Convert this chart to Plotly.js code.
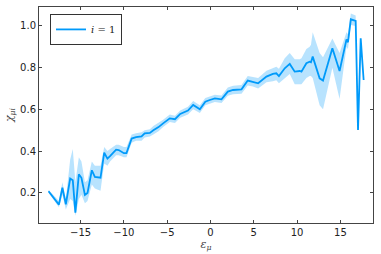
<!DOCTYPE html>
<html>
<head>
<meta charset="utf-8">
<script src="https://cdn.plot.ly/plotly-3.0.1.min.js"></script>
<style>html,body{margin:0;padding:0;background:#fff;}#chart{width:381px;height:254px;}</style>
</head>
<body>
<div id="chart"></div>
<script>
const epsMu = [-18.7,-17.5,-17.1,-16.7,-16.2,-15.9,-15.6,-15.2,-14.9,-14.5,-14.2,-13.7,-13.35,-12.7,-12.27,-11.9,-11.6,-10.9,-10.6,-10.0,-9.7,-9.1,-8.6,-7.96,-7.6,-7.0,-6.6,-6.0,-5.47,-4.7,-4.1,-3.5,-2.6,-2.0,-1.23,-0.6,-0.08,0.5,1.27,2.0,2.6,3.58,4.3,4.9,5.5,6.46,7.2,7.6,7.9,8.57,9.15,9.72,10.3,10.5,11.07,11.45,11.6,11.8,12.6,12.99,14.07,14.9,15.7,15.87,16.2,16.76,17.03,17.34,17.68];
const chiMean = [0.207,0.143,0.224,0.145,0.268,0.26,0.105,0.289,0.272,0.19,0.199,0.308,0.276,0.272,0.392,0.364,0.376,0.407,0.405,0.39,0.39,0.46,0.467,0.47,0.485,0.487,0.50,0.515,0.533,0.557,0.553,0.578,0.594,0.621,0.60,0.637,0.645,0.653,0.648,0.685,0.693,0.696,0.738,0.733,0.725,0.757,0.77,0.773,0.76,0.797,0.818,0.781,0.784,0.781,0.821,0.829,0.826,0.853,0.749,0.738,0.893,0.784,0.936,0.922,1.032,1.024,0.501,0.941,0.741];
const chiLower = [0.20,0.13,0.19,0.12,0.17,0.16,0.09,0.17,0.19,0.15,0.16,0.24,0.22,0.21,0.34,0.33,0.35,0.38,0.38,0.37,0.37,0.44,0.45,0.45,0.465,0.47,0.48,0.495,0.515,0.54,0.535,0.56,0.575,0.60,0.582,0.62,0.627,0.635,0.63,0.665,0.673,0.675,0.715,0.71,0.70,0.73,0.735,0.74,0.725,0.75,0.77,0.72,0.72,0.72,0.75,0.76,0.76,0.75,0.62,0.60,0.80,0.65,0.90,0.89,1.005,1.00,0.495,0.935,0.735];
const chiUpper = [0.215,0.16,0.25,0.17,0.36,0.41,0.25,0.37,0.35,0.25,0.26,0.35,0.33,0.33,0.42,0.40,0.41,0.43,0.43,0.42,0.42,0.48,0.485,0.49,0.50,0.505,0.52,0.535,0.55,0.575,0.57,0.595,0.612,0.64,0.62,0.655,0.663,0.67,0.667,0.705,0.713,0.717,0.76,0.756,0.75,0.785,0.80,0.805,0.795,0.845,0.87,0.84,0.84,0.845,0.89,0.90,0.91,0.97,0.87,0.85,0.94,0.87,0.97,0.96,1.06,1.05,0.505,0.945,0.745];
const seriesName = '<i>i</i> = 1';
const xTicks = [-15,-10,-5,0,5,10,15];
const yTicks = [0.2,0.4,0.6,0.8,1.0];

const bandX = epsMu.concat(epsMu.slice().reverse());
const bandY = chiUpper.concat(chiLower.slice().reverse());

const traces = [
  {x: bandX, y: bandY, type: 'scatter', mode: 'lines', fill: 'toself',
   fillcolor: 'rgba(0,154,250,0.28)', line: {width: 0}, hoverinfo: 'skip', showlegend: false},
  {x: epsMu, y: chiMean, type: 'scatter', mode: 'lines', name: seriesName,
   line: {color: '#009AFA', width: 1.8}}
];

const axisCommon = {
  showgrid: false, zeroline: false, showline: true, linecolor: '#444', linewidth: 1,
  mirror: 'allticks', ticks: 'inside', ticklen: 3, tickcolor: '#444',
  tickfont: {family: 'DejaVu Sans', size: 10, color: '#222'}
};

const layout = {
  width: 381, height: 254,
  margin: {l: 39, r: 8, t: 7, b: 31},
  paper_bgcolor: '#fff', plot_bgcolor: '#fff',
  xaxis: Object.assign({}, axisCommon, {
    range: [-19.8, 18.76], tickvals: xTicks, ticktext: xTicks.map(v => v < 0 ? '\u2212' + Math.abs(v) : String(v)),
    title: {text: '<i>ε</i><sub><i>μ</i></sub>', font: {family: 'DejaVu Serif', size: 11, color: '#444'}, standoff: 2}
  }),
  yaxis: Object.assign({}, axisCommon, {
    range: [0.055, 1.091], tickvals: yTicks, ticktext: yTicks.map(v => v.toFixed(1)),
    title: {text: '<i>χ</i><sub><i>μi</i></sub>', font: {family: 'DejaVu Serif', size: 11, color: '#444'}, standoff: 4}
  }),
  showlegend: true,
  legend: {x: 0.033, y: 0.968, xanchor: 'left', yanchor: 'top', bgcolor: '#fff',
    bordercolor: '#333', borderwidth: 1, font: {family: 'DejaVu Serif', size: 10, color: '#222'},
    itemwidth: 30, tracegroupgap: 0}
};

Plotly.newPlot('chart', traces, layout, {displayModeBar: false, staticPlot: true});
</script>
</body>
</html>
